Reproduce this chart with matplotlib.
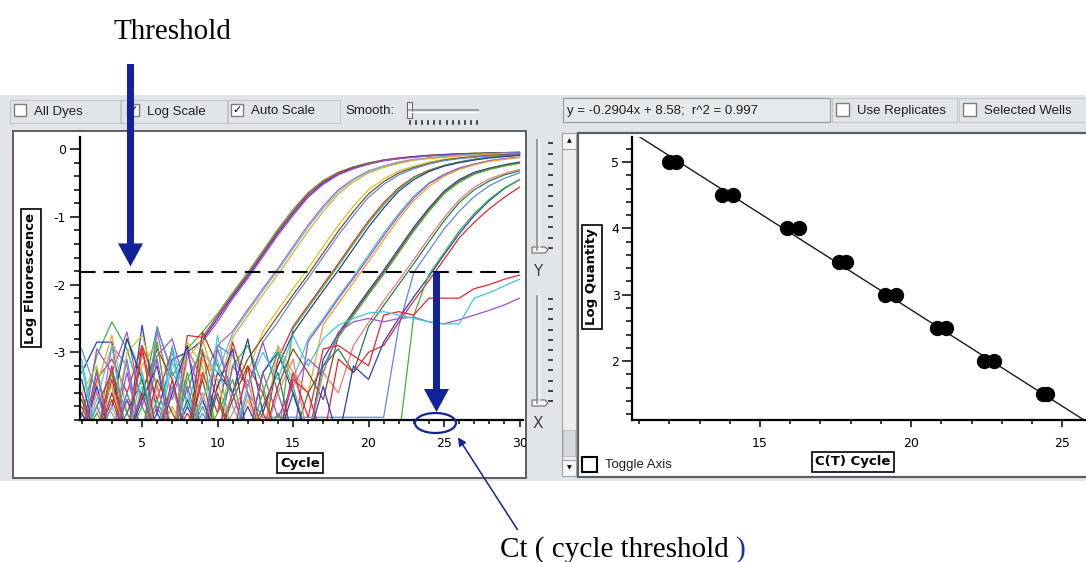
import numpy as np
import matplotlib.pyplot as plt
from matplotlib.patches import Rectangle, FancyArrow, Ellipse, FancyArrowPatch, Polygon
from matplotlib.ticker import MultipleLocator, FixedLocator

plt.rcParams['axes.unicode_minus'] = False

W, H = 1086, 562

# ---- amplification plot: log fluorescence per cycle (cycles 1..30) ----
cycles = np.arange(1, 31)
threshold = -1.82
ct_mark = 24.5

well_a1 = [-3.95, -3.05, -2.55, -2.95, -3.70, -2.62, -3.35, -2.95, -2.70, -2.43,
           -2.12, -1.82, -1.50, -1.18, -0.89, -0.64, -0.46, -0.34, -0.26, -0.20,
           -0.16, -0.13, -0.11, -0.09, -0.08, -0.07, -0.06, -0.05, -0.05, -0.04]
well_a2 = [-4.30, -3.40, -3.10, -3.60, -2.90, -3.50, -4.30, -2.75, -2.78, -2.46,
           -2.15, -1.85, -1.53, -1.21, -0.92, -0.66, -0.48, -0.35, -0.27, -0.21,
           -0.16, -0.13, -0.11, -0.09, -0.08, -0.07, -0.06, -0.06, -0.05, -0.05]
well_a3 = [-3.30, -2.85, -2.85, -4.30, -2.60, -3.90, -3.10, -3.00, -2.82, -2.50,
           -2.18, -1.88, -1.56, -1.24, -0.95, -0.69, -0.50, -0.37, -0.28, -0.22,
           -0.17, -0.14, -0.11, -0.10, -0.08, -0.07, -0.07, -0.06, -0.06, -0.05]
well_a4 = [-4.30, -2.95, -3.30, -2.70, -3.80, -3.05, -2.80, -3.60, -2.85, -2.55,
           -2.21, -1.91, -1.59, -1.27, -0.98, -0.71, -0.52, -0.38, -0.29, -0.22,
           -0.17, -0.14, -0.12, -0.10, -0.09, -0.08, -0.07, -0.07, -0.06, -0.06]
well_b1 = [-3.70, -4.30, -2.90, -3.20, -4.30, -2.70, -3.70, -2.95, -3.40, -2.90,
           -2.69, -2.37, -2.06, -1.76, -1.44, -1.12, -0.84, -0.60, -0.44, -0.32,
           -0.25, -0.19, -0.15, -0.13, -0.11, -0.09, -0.08, -0.07, -0.06, -0.06]
well_b2 = [-3.10, -4.30, -3.60, -2.80, -3.30, -4.30, -2.90, -3.80, -3.00, -3.30,
           -2.72, -2.40, -2.09, -1.79, -1.47, -1.15, -0.87, -0.62, -0.45, -0.33,
           -0.25, -0.20, -0.16, -0.13, -0.11, -0.09, -0.08, -0.07, -0.06, -0.06]
well_b3 = [-4.30, -3.50, -2.75, -3.90, -3.20, -2.85, -4.30, -3.10, -2.80, -3.55,
           -2.78, -2.46, -2.15, -1.85, -1.53, -1.21, -0.92, -0.66, -0.48, -0.35,
           -0.27, -0.21, -0.16, -0.14, -0.12, -0.10, -0.09, -0.08, -0.07, -0.07]
well_c1 = [-3.60, -3.20, -4.30, -3.00, -2.75, -3.50, -4.30, -2.85, -3.20, -4.30,
           -2.95, -3.30, -2.69, -2.37, -2.06, -1.76, -1.44, -1.12, -0.84, -0.60,
           -0.44, -0.32, -0.25, -0.19, -0.15, -0.13, -0.11, -0.09, -0.08, -0.07]
well_c2 = [-4.30, -3.80, -3.30, -4.30, -3.60, -2.95, -3.40, -4.30, -2.70, -3.20,
           -3.60, -3.10, -2.78, -2.46, -2.15, -1.85, -1.53, -1.21, -0.92, -0.66,
           -0.48, -0.35, -0.27, -0.21, -0.16, -0.13, -0.11, -0.09, -0.08, -0.07]
well_c3 = [-2.95, -3.60, -4.30, -3.10, -4.30, -2.65, -3.30, -3.70, -4.30, -2.90,
           -3.05, -3.50, -2.85, -2.55, -2.21, -1.91, -1.59, -1.27, -0.98, -0.71,
           -0.52, -0.38, -0.29, -0.22, -0.17, -0.14, -0.12, -0.10, -0.09, -0.08]
well_d1 = [-3.80, -4.30, -3.40, -4.30, -3.00, -3.70, -2.95, -4.30, -3.30, -3.90,
           -2.85, -3.60, -4.30, -3.10, -2.62, -2.31, -2.00, -1.69, -1.37, -1.06,
           -0.79, -0.57, -0.41, -0.31, -0.24, -0.19, -0.15, -0.12, -0.10, -0.09]
well_d2 = [-4.30, -3.25, -4.30, -3.60, -4.30, -2.85, -4.30, -3.40, -2.95, -4.30,
           -3.20, -2.90, -3.50, -4.30, -2.65, -2.34, -2.03, -1.72, -1.40, -1.09,
           -0.82, -0.59, -0.42, -0.32, -0.24, -0.19, -0.15, -0.12, -0.10, -0.09]
well_d3 = [-3.40, -4.30, -3.80, -2.80, -3.40, -4.30, -3.60, -2.90, -4.30, -3.30,
           -3.60, -2.80, -3.90, -3.20, -2.72, -2.40, -2.09, -1.79, -1.47, -1.15,
           -0.87, -0.62, -0.45, -0.33, -0.25, -0.20, -0.16, -0.13, -0.11, -0.09]
well_e1 = [-4.30, -3.70, -2.90, -4.30, -3.50, -4.30, -3.15, -3.60, -4.30, -2.75,
           -3.80, -4.30, -3.30, -2.95, -3.40, -2.80, -2.50, -2.18, -1.88, -1.56,
           -1.24, -0.95, -0.69, -0.50, -0.37, -0.28, -0.22, -0.17, -0.14, -0.12]
well_e2 = [-3.60, -4.30, -4.30, -3.30, -4.30, -3.80, -4.30, -3.00, -3.70, -4.30,
           -3.20, -3.50, -2.85, -3.60, -4.30, -2.84, -2.53, -2.21, -1.91, -1.60,
           -1.28, -0.98, -0.72, -0.51, -0.38, -0.28, -0.22, -0.17, -0.14, -0.12]
well_e3 = [-4.30, -3.90, -3.50, -4.30, -2.90, -4.30, -3.80, -4.30, -3.10, -3.40,
           -4.30, -3.70, -4.30, -2.90, -3.30, -3.60, -2.59, -2.28, -1.97, -1.66,
           -1.34, -1.03, -0.76, -0.55, -0.40, -0.30, -0.23, -0.18, -0.15, -0.12]
well_f1 = [-4.30, -3.50, -4.30, -4.30, -3.70, -3.20, -4.30, -3.80, -4.30, -3.50,
           -2.95, -4.30, -3.30, -3.00, -3.60, -4.30, -3.10, -2.72, -2.40, -2.09,
           -1.79, -1.47, -1.15, -0.87, -0.62, -0.45, -0.34, -0.28, -0.23, -0.19]
well_f2 = [-3.90, -4.30, -3.60, -4.30, -4.30, -3.40, -3.90, -4.30, -3.40, -4.30,
           -3.70, -3.20, -4.30, -3.50, -2.95, -3.30, -3.70, -2.75, -2.43, -2.12,
           -1.82, -1.50, -1.18, -0.89, -0.64, -0.47, -0.36, -0.29, -0.24, -0.20]
well_f3 = [-4.30, -4.30, -3.30, -3.90, -4.30, -3.70, -4.30, -3.30, -4.30, -3.90,
           -3.40, -4.30, -3.60, -3.00, -3.50, -4.30, -3.20, -2.78, -2.46, -2.15,
           -1.85, -1.53, -1.21, -0.92, -0.66, -0.49, -0.37, -0.30, -0.25, -0.21]
well_g1 = [-4.30, -3.80, -4.30, -3.60, -4.30, -4.30, -3.50, -4.30, -3.90, -4.30,
           -4.30, -3.60, -3.96, -3.96, -3.96, -3.96, -3.96, -3.96, -3.96, -3.96,
           -3.96, -2.62, -1.82, -1.50, -1.18, -0.92, -0.70, -0.54, -0.43, -0.35]
well_g2 = [-3.70, -4.30, -4.30, -3.90, -3.40, -4.30, -4.30, -3.70, -4.30, -3.60,
           -4.30, -4.30, -3.80, -3.30, -4.30, -3.60, -3.20, -2.95, -3.30, -2.62,
           -2.31, -2.00, -1.69, -1.37, -1.06, -0.79, -0.60, -0.47, -0.38, -0.32]
well_g3 = [-4.30, -3.60, -3.90, -4.30, -4.30, -3.50, -4.30, -4.30, -3.60, -4.30,
           -3.90, -3.40, -4.30, -3.60, -3.10, -4.30, -3.30, -3.60, -2.90, -2.56,
           -2.24, -1.94, -1.63, -1.31, -1.01, -0.75, -0.56, -0.44, -0.36, -0.30]
well_h1 = [-4.30, -4.30, -3.70, -4.30, -3.60, -4.30, -4.30, -3.90, -4.30, -4.30,
           -3.60, -4.30, -3.90, -4.30, -3.40, -3.60, -4.30, -3.10, -3.30, -3.00,
           -2.90, -2.56, -2.24, -1.94, -1.63, -1.31, -1.08, -0.88, -0.71, -0.56]
well_h2 = [-3.90, -4.30, -4.30, -3.70, -4.30, -3.90, -4.30, -4.30, -3.70, -4.30,
           -4.30, -3.80, -4.30, -4.30, -3.60, -4.30, -3.50, -4.30, -3.20, -3.40,
           -2.85, -2.50, -2.18, -1.88, -1.56, -1.25, -0.98, -0.76, -0.58, -0.45]
well_h3 = [-4.30, -3.90, -4.30, -4.30, -3.80, -4.30, -4.30, -4.30, -3.80, -4.30,
           -4.30, -4.30, -4.30, -3.90, -4.30, -4.30, -4.30, -4.30, -4.30, -4.30,
           -4.30, -4.30, -2.45, -1.85, -1.53, -1.21, -0.95, -0.74, -0.57, -0.45]
# wells that never reach the threshold
well_n1 = [-3.60, -4.30, -3.20, -4.30, -2.90, -4.30, -3.40, -4.30, -3.00, -3.70,
           -4.30, -3.20, -3.60, -4.30, -3.30, -3.96, -2.95, -2.90, -3.05, -3.20,
           -2.45, -2.40, -2.45, -2.20, -2.20, -2.20, -2.06, -2.00, -1.92, -1.86]
well_n2 = [-4.30, -3.30, -4.30, -3.70, -4.30, -3.10, -4.30, -3.50, -4.30, -2.95,
           -3.60, -4.30, -3.30, -3.96, -3.50, -3.10, -3.30, -2.70, -2.55, -2.50,
           -2.55, -2.50, -2.48, -2.55, -2.58, -2.52, -2.45, -2.38, -2.30, -2.20]
well_n3 = [-3.20, -4.30, -3.80, -4.30, -3.30, -4.30, -2.95, -4.30, -3.70, -3.10,
           -4.30, -3.50, -3.00, -3.40, -2.75, -3.20, -2.80, -2.60, -2.50, -2.42,
           -2.40, -2.45, -2.50, -2.55, -2.58, -2.58, -2.20, -2.12, -2.02, -1.92]

wells = [well_a1, well_a2, well_a3, well_a4, well_b1, well_b2, well_b3,
         well_c1, well_c2, well_c3, well_d1, well_d2, well_d3,
         well_e1, well_e2, well_e3, well_f1, well_f2, well_f3,
         well_g1, well_g2, well_g3, well_h1, well_h2, well_h3,
         well_n1, well_n2, well_n3]
well_colors = ['#3cb43c', '#e8262a', '#2a3cc8', '#a050c8', '#d858b0', '#40c8d8', '#f0a028',
               '#c8c828', '#8a4a1a', '#5a8ae8', '#e8262a', '#3cb43c', '#283c9c',
               '#40c8d8', '#a050c8', '#f0a028', '#2a3cc8', '#8a4a1a', '#3cb43c',
               '#5a8ae8', '#208048', '#f07878', '#e8262a', '#2a3cc8', '#3cb43c',
               '#e8262a', '#a050c8', '#40c8d8']

# ---- standard curve ----
ct_cycle = [11.98, 12.23, 13.75, 14.1, 15.9, 16.3, 17.6, 17.85,
            19.15, 19.5, 20.85, 21.15, 22.4, 22.75, 24.35, 24.5]
log_qty = [5, 5, 4.5, 4.5, 4, 4, 3.5, 3.5, 3, 3, 2.5, 2.5, 2, 2, 1.5, 1.5]
fit_slope = -0.2904
fit_intercept = 8.58
fit_r2 = 0.997

navy = '#12229a'
ui_font = 'Liberation Sans'

fig = plt.figure(figsize=(W / 100, H / 100), dpi=100, facecolor='white')

# window chrome drawn in pixel coordinates
bg = fig.add_axes([0, 0, 1, 1], zorder=0)
bg.set_xlim(0, W)
bg.set_ylim(H, 0)
bg.axis('off')


def box(x0, y0, x1, y1, **kw):
    p = Rectangle((x0, y0), x1 - x0, y1 - y0, **kw)
    bg.add_patch(p)
    return p


def checkbox(x, y, checked, label, size=12):
    box(x, y, x + size, y + size, fc='white', ec='#7c7c7c', lw=1)
    if checked:
        bg.text(x + size / 2, y + size / 2 + 0.5, '\u2713', ha='center', va='center',
                fontsize=8, family='DejaVu Sans', color='black')
    bg.text(x + size + 8, y + size / 2 + 1.5, label, ha='left', va='center',
            fontsize=9.5, family=ui_font, color='#202020')


def vslider(x, y0, y1, label, label_y):
    bg.plot([x, x], [y0, y1], color='#8c9096', lw=1.2)
    bg.plot([x + 1.6, x + 1.6], [y0, y1], color='white', lw=1)
    for ty in np.linspace(y0 + 3, y1 - 2, 11):
        bg.plot([x + 12, x + 14.5], [ty, ty], color='#303030', lw=1.3)
    bg.add_patch(Polygon([[x - 5, y1 - 3], [x + 8, y1 - 3], [x + 11, y1],
                          [x + 8, y1 + 3], [x - 5, y1 + 3]],
                         fc='#f4f4f4', ec='#6a6a6a', lw=0.8))
    bg.text(x + 1, label_y, label, ha='center', va='center', fontsize=11,
            family='DejaVu Sans', color='#404040')


# gray dialog background
box(0, 95, W, 481, fc='#e1e5e9', ec='none')

# left toolbar
for x0, x1 in [(10, 120), (121, 227), (228, 340)]:
    box(x0, 100, x1, 123, fc='none', ec='#c2c6ca', lw=0.8)
checkbox(14, 104, False, 'All Dyes')
checkbox(127, 104, True, 'Log Scale')
checkbox(231, 104, True, 'Auto Scale')
bg.text(345, 111, 'Smooth:', ha='left', va='center', fontsize=9.5, family=ui_font, color='#202020')
bg.plot([409, 478], [110, 110], color='#8c9096', lw=1.2)
bg.plot([409, 478], [111.5, 111.5], color='white', lw=1)
box(407, 102, 412, 118, fc='#f4f4f4', ec='#6a6a6a', lw=0.8)
for tx in np.linspace(410, 477, 12):
    bg.plot([tx, tx], [121, 124], color='#303030', lw=1.2)

# right toolbar
box(563, 98, 830, 122, fc='#e6e9ec', ec='#9a9ea2', lw=0.9)
bg.text(567, 111, f'y = {fit_slope}x + {fit_intercept};  r^2 = {fit_r2}', ha='left',
        va='center', fontsize=9.5, family=ui_font, color='#202020')
box(832, 98, 957, 122, fc='none', ec='#c2c6ca', lw=0.8)
box(959, 98, W + 5, 122, fc='none', ec='#c2c6ca', lw=0.8)
checkbox(836, 103, False, 'Use Replicates', size=13)
checkbox(963, 103, False, 'Selected Wells', size=13)

# panels
box(13, 131, 526, 478, fc='white', ec='#5e5e5e', lw=1.4)
box(578, 133, W + 5, 477, fc='white', ec='#5e5e5e', lw=1.6)

# sliders between the panels
vslider(537, 140, 250, 'Y', 271)
vslider(537, 296, 403, 'X', 423)

# scroll bar of the right panel
box(562, 133, 576, 476, fc='#eceef0', ec='#a0a4a8', lw=0.8)
box(562, 133, 576, 149, fc='#f6f6f6', ec='#a0a4a8', lw=0.8)
box(562, 460, 576, 476, fc='#f6f6f6', ec='#a0a4a8', lw=0.8)
box(563, 430, 575, 456, fc='#d6dade', ec='#b4b8bc', lw=0.6)
bg.text(569, 141, '\u25b2', ha='center', va='center', fontsize=4.5, color='black')
bg.text(569, 468, '\u25bc', ha='center', va='center', fontsize=4.5, color='black')

# toggle axis checkbox
box(582, 457, 597, 472, fc='white', ec='black', lw=1.5)
bg.text(605, 465, 'Toggle Axis', ha='left', va='center', fontsize=9.5,
        family=ui_font, color='#202020')

# boxed axis titles
label_box = dict(boxstyle='square,pad=0.25', fc='white', ec='black', lw=1.2)
bg.text(31, 278, 'Log Fluorescence', rotation=90, ha='center', va='center', fontsize=9.5,
        fontweight='bold', family='DejaVu Sans', bbox=label_box)
bg.text(300, 463, 'Cycle', ha='center', va='center', fontsize=9.5,
        fontweight='bold', family='DejaVu Sans', bbox=label_box)
bg.text(592, 277, 'Log Quantity', rotation=90, ha='center', va='center', fontsize=9.5,
        fontweight='bold', family='DejaVu Sans', bbox=label_box)
bg.text(853, 462, 'C(T) Cycle', ha='center', va='center', fontsize=9.5,
        fontweight='bold', family='DejaVu Sans', bbox=label_box)


def px_axes(x0, y0, x1, y1, **kw):
    return fig.add_axes([x0 / W, 1 - y1 / H, (x1 - x0) / W, (y1 - y0) / H], **kw)


def style_axes(ax):
    ax.patch.set_alpha(0)
    for s in ('top', 'right'):
        ax.spines[s].set_visible(False)
    for s in ('left', 'bottom'):
        ax.spines[s].set_linewidth(1.6)
    ax.tick_params(which='both', direction='out', width=1.1, colors='black', labelsize=9)
    ax.tick_params(axis='x', which='major', length=5, pad=7)
    ax.tick_params(axis='x', which='minor', length=3)
    ax.tick_params(axis='y', which='major', length=7, pad=3)
    ax.tick_params(axis='y', which='minor', length=4)
    for lbl in ax.get_xticklabels() + ax.get_yticklabels():
        lbl.set_family('DejaVu Sans')


# amplification plot
ax1 = px_axes(80, 137, 523, 420, zorder=2)
for color, vals in zip(well_colors, wells):
    ax1.plot(cycles, vals, color=color, lw=0.9)
ax1.axhline(threshold, color='black', lw=1.5, ls=(0, (7.5, 3.8)))
ax1.set_xlim(0.89, 30.23)
ax1.set_ylim(-4.0, 0.18)
ax1.xaxis.set_major_locator(FixedLocator([5, 10, 15, 20, 25, 30]))
ax1.xaxis.set_minor_locator(MultipleLocator(1))
ax1.yaxis.set_major_locator(FixedLocator([-3, -2, -1, 0]))
ax1.yaxis.set_minor_locator(MultipleLocator(0.2))
style_axes(ax1)
clip = Rectangle((13, 131), 513, 347, transform=bg.transData)
for t in ax1.xaxis.get_major_ticks():
    t.label1.set_clip_path(clip)

# standard curve
ax2 = px_axes(632, 137, W, 420, zorder=2)
fit_x = np.array([10.76, 25.79])
ax2.plot(fit_x, fit_slope * fit_x + fit_intercept, color='#1a1a1a', lw=1.0)
ax2.plot(ct_cycle, log_qty, 'o', color='black', ms=10, mec='black')
ax2.set_xlim(10.76, 25.79)
ax2.set_ylim(1.11, 5.38)
ax2.xaxis.set_major_locator(FixedLocator([15, 20, 25]))
ax2.xaxis.set_minor_locator(MultipleLocator(1))
ax2.yaxis.set_major_locator(FixedLocator([2, 3, 4, 5]))
ax2.yaxis.set_minor_locator(MultipleLocator(0.2))
style_axes(ax2)
ax2.tick_params(axis='y', which='major', pad=2)

# annotations on top
top = fig.add_axes([0, 0, 1, 1], zorder=10)
top.set_xlim(0, W)
top.set_ylim(H, 0)
top.axis('off')


def data_to_px(ax, x, y):
    X, Y = ax.transData.transform((x, y))
    return X, H - Y


thr_x, thr_y = data_to_px(ax1, 2.3, threshold)
top.text(113, 39, 'Threshold', ha='left', va='baseline', fontsize=21,
         family='Liberation Serif', color='black')
top.add_patch(FancyArrow(130.5, 64, 0, (thr_y - 6) - 64, width=7, head_width=25,
                         head_length=23, length_includes_head=True, color=navy, lw=0))

ct_x, ct_y = data_to_px(ax1, ct_mark, threshold)
_, base_y = data_to_px(ax1, ct_mark, ax1.get_ylim()[0])
top.add_patch(FancyArrow(ct_x, ct_y, 0, (base_y - 8) - ct_y, width=7, head_width=25,
                         head_length=23, length_includes_head=True, color=navy, lw=0))
top.add_patch(Ellipse((ct_x - 1, base_y + 3), 41, 20, fc='none', ec=navy, lw=1.6))
top.add_patch(FancyArrowPatch((519, 532), (ct_x + 20, base_y + 15), arrowstyle='-|>',
                              mutation_scale=12, color=navy, lw=1.1))

t1 = top.text(500, 557, 'Ct ( cycle threshold', ha='left', va='baseline', fontsize=21,
              family='Liberation Serif', color='black')
top.annotate(')', xy=(1, 0), xycoords=t1, xytext=(5.5, 0), textcoords='offset points',
             ha='left', va='bottom', fontsize=21, family='Liberation Serif', color='#1d2fa8')

fig.savefig('out.png', dpi=100, facecolor='white')
